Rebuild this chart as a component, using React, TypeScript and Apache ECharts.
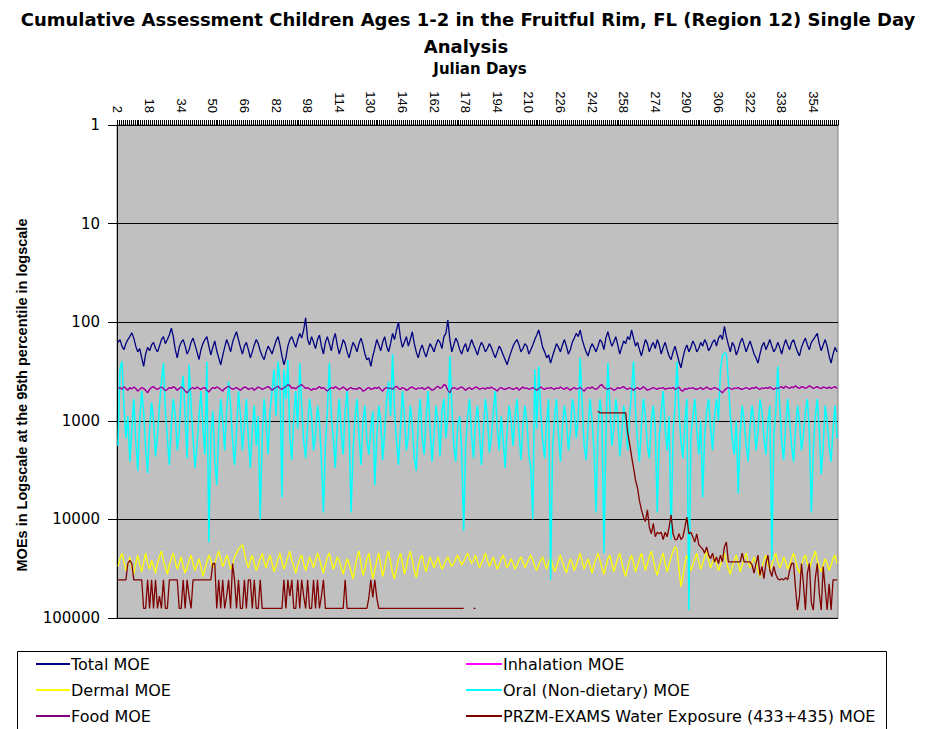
import React, { useEffect, useRef } from "react";
import * as echarts from "echarts";

const days: string[] = Array.from({ length: 365 }, (_, k) => String(k + 2));

const totalMOE = [
  160,150,175,190,165,150,140,128,145,175,200,185,230,280,210,180,195,170,160,185,
  200,175,150,140,165,150,135,115,140,190,230,180,160,150,175,210,190,160,145,170,
  200,240,190,165,150,140,175,215,180,155,195,230,270,220,180,150,170,200,160,140,
  125,150,180,210,175,160,190,230,200,170,150,165,195,220,240,200,175,190,210,180,
  155,140,170,220,270,230,175,150,140,160,180,150,130,145,120,90,150,170,140,160,
  185,150,135,175,210,160,140,165,195,150,130,170,210,180,150,165,200,230,190,160,
  175,200,165,145,170,210,240,230,280,220,185,150,170,195,160,140,175,200,165,130,
  150,120,100,145,180,160,140,175,150,125,165,200,230,190,170,200,225,190,165,180,
  200,170,150,160,185,140,130,95,150,200,170,145,160,190,210,180,165,200,175,150,
  170,190,215,180,160,175,200,185,165,180,205,230,200,175,190,215,240,270,230,200,
  175,160,150,170,200,185,165,175,210,190,170,150,135,120,145,180,200,230,215,260,
  220,190,165,180,200,170,150,175,210,190,160,145,130,140,120,150,175,200,220,185,
  165,180,200,175,150,160,190,145,125,150,175,160,140,170,210,180,155,165,140,150,
  120,145,175,160,190,220,180,150,165,200,175,160,185,150,170,210,180,160,190,220,
  240,200,175,210,250,290,230,190,170,200,180,155,170,200,185,160,175,150,165,195,
  180,160,150,175,145,135,150,110,140,170,200,160,175,215,190,160,145,170,200,175,
  155,180,210,230,260,210,175,160,190,170,150,175,200,185,160,180,210,175,150,170,
  190,160,150,175,200,220,180,160,145,170,190,160,150,140,130,165,195,170,150,175,
  220,260,210,180,200,
];

const foodMOE = [
  470,460,480,450,470,490,460,475,455,470,500,480,460,470,490,520,480,460,450,470,
  480,465,455,470,495,480,460,470,450,465,490,470,455,470,500,520,490,470,460,475,
  455,470,480,465,460,490,510,480,460,470,455,465,480,500,470,460,445,465,480,470,
  460,475,490,470,455,460,480,470,465,490,470,455,465,480,470,460,450,465,490,470,
  460,445,470,480,460,450,430,440,470,460,475,455,440,430,450,470,460,475,490,470,
  480,465,450,470,460,480,500,475,460,470,450,465,480,470,455,470,490,470,460,475,
  470,480,460,470,500,490,470,460,480,475,460,470,455,480,500,470,460,470,465,480,
  460,445,470,480,460,470,490,480,460,455,470,480,465,470,460,480,470,455,470,490,
  480,460,445,470,460,430,440,490,520,470,460,470,480,460,455,470,490,470,460,480,
  470,455,460,480,470,465,480,460,470,455,470,480,500,470,460,475,480,470,460,470,
  480,470,460,490,470,455,470,465,480,470,460,475,490,470,455,470,480,465,470,460,
  470,480,465,470,455,470,480,460,470,490,470,460,475,470,460,480,500,470,460,470,
  455,470,480,465,440,430,460,470,480,465,470,490,480,460,470,460,450,470,480,465,
  470,490,470,460,480,470,450,470,490,480,470,460,470,480,465,470,460,480,470,465,
  470,460,480,470,455,490,500,470,480,465,470,460,475,480,470,460,480,470,455,470,
  480,470,460,470,480,500,520,490,470,460,470,480,465,470,460,475,480,470,460,470,
  480,460,470,455,470,480,465,470,460,470,455,470,480,465,470,460,450,470,445,460,
  470,455,460,440,460,470,450,455,470,460,440,455,470,460,450,465,470,455,460,470,
  455,470,460,450,470,
];

const oralMOE = [
  1800,300,250,700,1500,900,2600,1200,600,1600,3200,1000,500,800,1900,3400,1200,650,1000,2300,
  1400,700,400,260,800,1500,2800,1100,600,900,2000,1300,500,350,900,2400,270,700,1500,3000,
  1800,900,500,1200,2200,250,17000,1400,800,2500,4500,1200,600,1000,2000,800,400,700,1600,2800,
  1300,500,900,2000,1100,600,1500,3000,1200,700,1800,900,10000,1500,600,1100,2200,800,500,300,
  900,250,400,6000,300,600,240,1500,2500,900,500,1200,260,700,1600,2400,1100,600,900,2000,
  1400,700,1000,2600,8500,1800,800,260,900,1500,3000,1100,600,1300,2200,800,500,1200,8500,2000,
  900,600,1400,2800,1000,700,1600,2200,1200,800,4500,1500,700,1000,2500,1300,600,400,900,210,
  800,1600,2800,1200,500,900,2000,1400,700,1100,2400,3200,1000,600,1500,2200,900,500,1200,2600,
  1400,700,1000,2300,800,600,1500,900,220,700,1800,2600,1100,900,2000,13000,1800,900,600,1400,
  2400,1000,700,1300,2800,1200,600,900,2100,1500,800,500,1200,2000,900,1600,3000,1200,700,1000,
  1800,900,600,1300,2500,1100,700,1000,2200,3000,10000,300,1200,280,800,1600,2400,1000,600,41000,
  2000,900,600,1400,2600,1100,700,1000,2000,1300,600,800,1500,900,230,700,1800,2500,1100,600,
  1000,2000,8500,1200,600,900,22000,1500,260,700,1800,1200,600,900,2300,1400,700,1000,2000,900,
  500,250,800,1600,2600,1100,600,900,1800,2400,1000,700,1200,8500,1500,800,500,1200,2000,900,
  16000,1300,700,250,800,1600,2400,1000,600,83000,1500,900,600,1200,2200,1000,6000,1400,800,600,
  1200,2000,900,600,1000,300,220,205,210,400,900,1600,2200,1000,5500,1300,700,1000,1800,2600,
  1100,700,1000,2000,1300,600,800,1500,2200,1000,700,26000,1400,800,280,700,1600,2500,1100,600,
  1000,1800,2600,1200,700,1000,2000,1400,800,600,1300,8500,2000,900,600,1200,3500,1800,700,1000,
  1800,2600,1200,700,1500,
];

const dermalMOE = [
  30000,25000,22000,27000,33000,29000,24000,31000,36000,28000,23000,29000,34000,27000,22000,28000,32000,26000,30000,35000,
  28000,24000,21000,26000,31000,36000,29000,25000,22000,27000,32000,28000,24000,30000,35000,31000,26000,23000,28000,33000,
  29000,25000,30000,38000,32000,27000,23000,26000,31000,28000,24000,21000,25000,30000,27000,23000,26000,32000,29000,24000,
  22000,20000,19000,18000,22000,27000,31000,26000,23000,28000,33000,29000,25000,22000,27000,31000,26000,23000,28000,34000,
  30000,25000,22000,27000,32000,28000,24000,21000,26000,30000,35000,29000,25000,23000,28000,33000,28000,24000,27000,31000,
  26000,22000,25000,30000,35000,29000,24000,22000,27000,32000,28000,24000,26000,31000,36000,30000,25000,28000,34000,40000,
  31000,24000,21000,28000,37000,32000,25000,22000,30000,40000,33000,26000,22000,29000,38000,31000,24000,21000,27000,35000,
  40000,32000,25000,22000,28000,36000,30000,24000,21000,26000,33000,39000,30000,25000,23000,29000,34000,28000,24000,27000,
  31000,27000,24000,28000,32000,29000,26000,24000,27000,30000,28000,25000,23000,26000,29000,27000,24000,22000,25000,28000,
  26000,23000,27000,31000,28000,25000,22000,26000,30000,27000,24000,28000,32000,29000,25000,23000,27000,31000,28000,25000,
  28000,32000,29000,26000,24000,27000,31000,28000,25000,23000,26000,30000,33000,29000,26000,24000,28000,32000,27000,24000,
  29000,34000,30000,26000,23000,27000,31000,35000,29000,25000,28000,33000,29000,25000,22000,27000,32000,28000,25000,30000,
  35000,29000,25000,22000,26000,31000,36000,30000,25000,23000,28000,34000,29000,25000,22000,27000,33000,38000,31000,26000,
  23000,28000,34000,29000,25000,22000,27000,33000,28000,24000,21000,26000,32000,37000,30000,25000,22000,28000,34000,29000,
  24000,21000,19000,20000,32000,48000,38000,28000,23000,27000,33000,29000,25000,22000,27000,32000,28000,24000,21000,26000,
  31000,27000,24000,28000,33000,29000,25000,22000,27000,32000,36000,30000,26000,23000,28000,34000,29000,25000,22000,27000,
  31000,27000,24000,28000,33000,38000,31000,26000,23000,28000,33000,29000,25000,22000,27000,31000,28000,24000,27000,32000,
  29000,25000,22000,26000,31000,35000,29000,25000,23000,28000,32000,27000,24000,21000,26000,30000,34000,29000,25000,28000,
  33000,29000,25000,23000,28000,
];

const przmMOE = [
  41000,41000,41000,41000,41000,28000,26000,28000,41000,41000,41000,41000,41000,80000,80000,41000,80000,41000,80000,41000,
  80000,60000,80000,41000,80000,80000,41000,41000,41000,41000,41000,80000,80000,41000,80000,41000,60000,80000,41000,41000,
  41000,41000,41000,41000,41000,41000,41000,41000,28000,28000,80000,41000,80000,41000,80000,60000,41000,80000,28000,41000,
  80000,41000,80000,80000,41000,80000,41000,41000,80000,41000,80000,80000,41000,80000,80000,80000,80000,80000,80000,80000,
  80000,80000,80000,80000,41000,80000,41000,60000,41000,80000,80000,41000,80000,41000,60000,80000,41000,80000,80000,41000,
  80000,41000,80000,60000,41000,80000,80000,80000,80000,80000,80000,80000,80000,80000,80000,41000,80000,80000,80000,80000,
  80000,80000,80000,80000,80000,80000,80000,62000,41000,62000,41000,62000,80000,80000,80000,80000,80000,80000,80000,80000,
  80000,80000,80000,80000,80000,80000,80000,80000,80000,80000,80000,80000,80000,80000,80000,80000,80000,80000,80000,80000,
  80000,80000,80000,80000,80000,80000,80000,80000,80000,80000,80000,80000,80000,80000,80000,80000,null,null,null,null,
  80000,80000,null,null,null,null,null,null,null,null,null,null,null,null,null,null,null,null,null,null,
  null,null,null,null,null,null,null,null,null,null,null,null,null,null,null,null,null,null,null,null,
  null,null,null,null,null,null,null,null,null,null,null,null,null,null,null,null,null,null,null,null,
  null,null,null,800,830,830,830,830,830,830,830,830,830,830,830,830,830,830,1300,1700,
  2300,3000,4000,4800,6500,8000,9500,10500,8000,12000,14000,11000,15000,13500,14000,13500,16000,13500,15000,12000,
  9000,14000,16000,16000,14000,16000,15000,12000,9500,14000,13500,15000,17000,14000,18000,19000,20000,22000,19000,23000,
  25000,22000,27000,24000,28000,23000,27000,19000,17000,27000,27000,27000,27000,27000,27000,27000,22000,27000,27000,27000,
  27000,29000,35000,28000,23000,37000,30000,40000,28000,23000,33000,38000,30000,36000,40000,41000,40000,41000,39000,41000,
  33000,28000,28000,50000,83000,60000,28000,45000,83000,35000,28000,70000,83000,40000,28000,55000,83000,30000,50000,83000,
  45000,83000,41000,41000,41000,
];

const yTicks = [1, 10, 100, 1000, 10000, 100000];

const seriesNames = [
  "Total MOE",
  "Inhalation MOE",
  "Dermal MOE",
  "Oral (Non-dietary) MOE",
  "Food MOE",
  "PRZM-EXAMS Water Exposure (433+435) MOE",
];

const SANS = '"Liberation Sans", Arial, sans-serif';
const WIDE = '"DejaVu Sans", Verdana, sans-serif';

export default function App() {
  const ref = useRef<HTMLDivElement>(null);
  useEffect(() => {
    if (!ref.current) return;
    const chart = echarts.init(ref.current, null, { renderer: "svg" });
    const line = (name: string, data: any[], color: string, width: number, z: number, opacity = 1) => ({
      name,
      type: "line",
      data,
      color,
      showSymbol: false,
      symbol: "none",
      connectNulls: false,
      z,
      lineStyle: { color, width, opacity },
      emphasis: { disabled: true },
    });
    const legendAt = (name: string, left: number, cy: number, iw: number) => ({
      orient: "horizontal",
      left,
      top: cy - 9,
      icon: "rect",
      itemWidth: iw,
      itemHeight: 2,
      selectedMode: false,
      padding: 0,
      data: [name],
      textStyle: { fontSize: 16, color: "#000", fontFamily: WIDE, padding: [0, 0, 0, -4], lineHeight: 18 },
    });
    const txt = (text: string, x: number, y: number, size: number, family: string, rotation = 0) => ({
      type: "text",
      x,
      y,
      rotation,
      style: {
        text,
        fontSize: size,
        fontWeight: "bold",
        fontFamily: family,
        fill: "#000",
        align: "center",
        verticalAlign: "middle",
        textAlign: "center",
        textVerticalAlign: "middle",
      },
    });
    chart.setOption({
      animation: false,
      textStyle: { fontFamily: SANS },
      grid: {
        left: 117,
        right: 97,
        top: 125,
        bottom: 111,
        show: true,
        backgroundColor: "#c0c0c0",
        borderColor: "#808080",
        borderWidth: 1,
      },
      xAxis: {
        type: "category",
        position: "top",
        data: days,
        boundaryGap: true,
        axisLine: { show: true, lineStyle: { color: "#000", width: 1 } },
        axisTick: { show: true, interval: 0, length: 5, inside: false, lineStyle: { color: "#000", width: 1 } },
        axisLabel: {
          interval: 15,
          rotate: 90,
          margin: 12,
          fontSize: 13,
          color: "#000",
          fontFamily: SANS,
        },
        splitLine: { show: false },
      },
      yAxis: {
        type: "log",
        logBase: 10,
        min: 1,
        max: 100000,
        inverse: true,
        axisLine: { show: true, lineStyle: { color: "#000", width: 1 } },
        axisTick: { show: true, length: 9, inside: false, lineStyle: { color: "#000" } },
        axisLabel: {
          fontSize: 15,
          color: "#000",
          fontFamily: WIDE,
          margin: 17,
          formatter: (v: number) => {
            const r = Math.round(v);
            return yTicks.indexOf(r) >= 0 ? String(r) : "";
          },
        },
        splitLine: { show: true, lineStyle: { color: "#000", width: 1 } },
        minorTick: { show: false },
      },
      legend: [
        legendAt(seriesNames[0], 36, 664, 34),
        legendAt(seriesNames[2], 36, 690, 34),
        legendAt(seriesNames[4], 36, 716, 34),
        legendAt(seriesNames[1], 466, 664, 36),
        legendAt(seriesNames[3], 466, 690, 36),
        legendAt(seriesNames[5], 466, 716, 36),
      ],
      graphic: [
        txt("Cumulative Assessment Children Ages 1-2 in the Fruitful Rim, FL (Region 12) Single Day", 468, 19, 18, WIDE),
        txt("Analysis", 466, 46, 18, WIDE),
        txt("Julian Days", 480, 69, 15, WIDE),
        txt("MOEs in Logscale at the 95th percentile in logscale", 22, 395, 14.5, SANS, Math.PI / 2),
        {
          type: "rect",
          shape: { x: 17.5, y: 651.5, width: 869, height: 100 },
          style: { fill: "none", stroke: "#000", lineWidth: 1 },
        },
      ],
      series: [
        line(seriesNames[0], totalMOE, "#000080", 1.3, 2),
        line(seriesNames[1], foodMOE, "#ff00ff", 1.2, 3),
        line(seriesNames[2], dermalMOE, "#ffff00", 1.3, 4),
        line(seriesNames[3], oralMOE, "#00ffff", 1.5, 5),
        line(seriesNames[4], foodMOE, "#800080", 1.2, 6, 0.85),
        line(seriesNames[5], przmMOE, "#800000", 1.3, 7),
      ],
    });
    return () => chart.dispose();
  }, []);
  return (
    <div
      ref={ref}
      style={{ position: "fixed", left: 0, top: 0, width: 935, height: 729, background: "#fff" }}
    />
  );
}
